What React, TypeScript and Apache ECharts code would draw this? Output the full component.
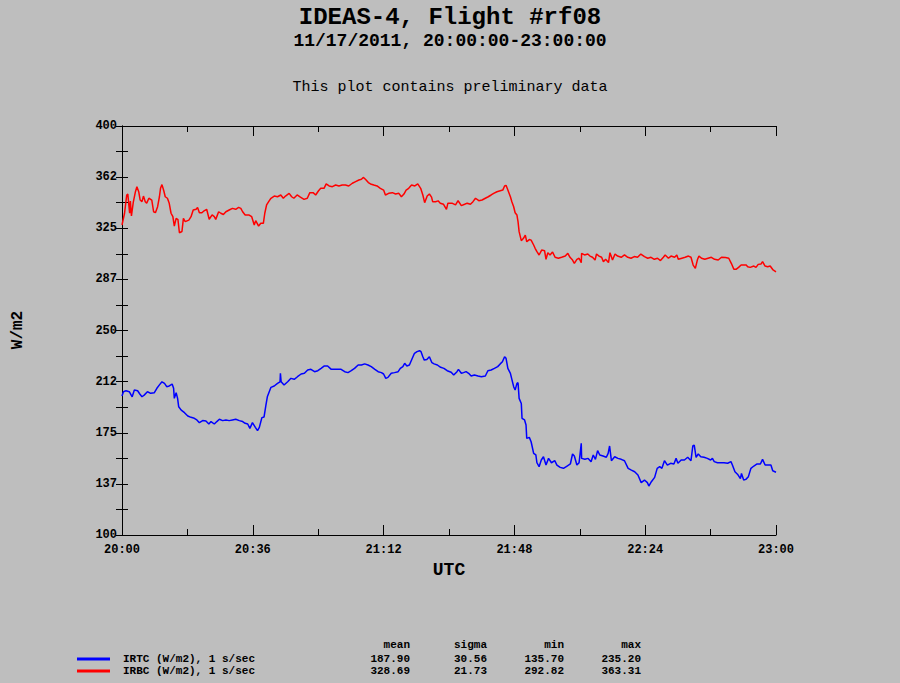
import { useEffect, useRef } from "react";
import * as echarts from "echarts";

const titleText = "IDEAS-4, Flight #rf08";
const subtitleText = "11/17/2011, 20:00:00-23:00:00";
const noteText = "This plot contains preliminary data";
const xAxisName = "UTC";
const yAxisName = "W/m2";
const yTickLabels = ["100", "137", "175", "212", "250", "287", "325", "362", "400"];
const xTickLabels = ["20:00", "20:36", "21:12", "21:48", "22:24", "23:00"];
const seriesNames = ["IRTC (W/m2), 1 s/sec", "IRBC (W/m2), 1 s/sec"];
const seriesColors = ["#0000ff", "#ff0000"];
const statHeaders = ["mean", "sigma", "min", "max"];
const irtcStats = ["187.90", "30.56", "135.70", "235.20"];
const irbcStats = ["328.69", "21.73", "292.82", "363.31"];

// [minutes after 20:00, W/m2]
const irtcData: [number, number][] = [
  [0, 201.9], [0.4, 205.1], [1.1, 205.8], [2.0, 205.1], [2.8, 201.4], [3.4, 206.3], [4.3, 205.8], [4.9, 203.4],
  [5.5, 201.4], [6.1, 202.6], [7.0, 205.1], [7.9, 203.9], [8.9, 204.4], [9.6, 207.6], [10.3, 210.1], [11.0, 212.4],
  [11.7, 211.2], [12.3, 208.8], [13.0, 209.3], [13.8, 210.7], [14.2, 207.6], [14.4, 200.2], [14.9, 204.4], [15.3, 200.2],
  [15.6, 194.1], [16.3, 191.6], [17.2, 189.7], [18.1, 187.3], [19.0, 186.3], [19.9, 185.6], [20.6, 184.4], [21.3, 182.4],
  [22.2, 183.9], [23.1, 183.6], [23.9, 181.4], [24.5, 183.2], [25.4, 181.4], [26.1, 183.2], [26.8, 184.9], [27.7, 183.9],
  [28.6, 184.4], [29.5, 183.9], [30.4, 184.4], [31.3, 184.9], [32.3, 183.9], [33.2, 183.2], [33.9, 181.9], [34.6, 181.4],
  [35.2, 178.2], [35.9, 182.4], [36.7, 178.9], [37.3, 176.5], [37.8, 178.9], [38.5, 186.1], [39.1, 186.6], [39.6, 195.1],
  [40.0, 201.4], [41.0, 208.3], [41.9, 209.3], [42.8, 211.2], [43.5, 212.4], [43.6, 218.6], [43.8, 212.4], [44.6, 210.0],
  [45.6, 212.4], [46.5, 214.9], [47.4, 214.2], [48.3, 216.1], [49.3, 218.1], [50.2, 218.6], [51.1, 221.0], [52.0, 221.5],
  [53.0, 219.8], [53.9, 220.5], [54.8, 222.2], [55.7, 224.0], [56.6, 224.0], [57.6, 221.5], [58.5, 221.5], [59.4, 221.5],
  [60.3, 221.5], [61.3, 219.8], [62.2, 219.1], [63.1, 220.5], [64.0, 222.2], [65.0, 224.7], [65.9, 224.7], [66.8, 225.5],
  [67.7, 224.7], [68.6, 223.5], [69.6, 221.5], [70.5, 219.8], [71.4, 219.1], [72.0, 218.1], [72.6, 214.9], [73.2, 215.6],
  [74.1, 218.6], [75.0, 219.1], [76.0, 219.8], [76.6, 222.2], [77.3, 223.5], [77.8, 225.9], [78.4, 224.0], [79.1, 224.7],
  [79.9, 229.6], [80.5, 233.3], [81.2, 234.5], [81.9, 235.2], [82.3, 234.5], [82.8, 230.8], [83.2, 228.3], [83.9, 228.8],
  [84.6, 230.8], [85.3, 226.4], [85.9, 225.5], [86.8, 224.7], [87.7, 223.0], [88.6, 222.2], [89.5, 220.5], [90.6, 219.4],
  [91.3, 217.3], [92.2, 219.8], [92.6, 221.5], [93.4, 218.6], [94.0, 219.1], [94.7, 219.8], [95.4, 218.6], [96.1, 216.6],
  [97.0, 217.3], [98.0, 216.6], [98.9, 216.1], [100.0, 216.6], [100.7, 220.5], [101.6, 221.0], [102.5, 222.2], [103.4, 223.5],
  [104.1, 225.5], [104.7, 227.1], [105.3, 230.8], [105.7, 229.6], [106.2, 222.2], [106.9, 218.6], [107.3, 214.2], [107.8, 208.8],
  [108.2, 206.3], [108.7, 211.2], [109.0, 211.7], [109.3, 200.2], [109.9, 196.5], [110.1, 185.6], [110.8, 184.4], [111.2, 180.7],
  [111.4, 170.9], [112.1, 171.6], [112.6, 168.4], [113.3, 159.9], [113.9, 158.7], [114.2, 153.0], [114.8, 150.1], [115.4, 155.0],
  [116.0, 157.4], [116.7, 151.3], [117.4, 156.2], [118.2, 153.0], [119.1, 154.5], [119.7, 151.3], [120.6, 149.6], [121.5, 148.9],
  [122.5, 150.6], [123.4, 152.1], [124.0, 159.4], [124.5, 157.9], [125.2, 151.3], [125.8, 153.0], [126.4, 167.3], [126.5, 156.2],
  [127.4, 155.5], [128.3, 156.2], [129.1, 153.8], [129.7, 158.7], [130.3, 155.5], [130.9, 161.9], [131.5, 158.7], [132.4, 157.9],
  [133.3, 157.0], [133.8, 159.9], [134.2, 165.3], [134.7, 154.5], [135.6, 157.4], [136.5, 156.2], [137.4, 155.5], [138.3, 154.5],
  [139.3, 148.9], [140.2, 147.6], [141.1, 146.4], [142.0, 144.0], [142.9, 138.4], [143.8, 140.3], [144.6, 138.4], [145.0, 135.9],
  [145.7, 139.1], [146.6, 142.3], [147.3, 148.9], [148.0, 150.1], [148.6, 148.9], [149.3, 154.5], [150.1, 151.3], [151.0, 152.6],
  [151.9, 152.1], [152.5, 156.2], [153.0, 152.6], [153.9, 155.0], [154.8, 155.0], [155.7, 157.0], [156.6, 154.5], [157.1, 165.3],
  [157.5, 166.0], [158.0, 157.0], [158.6, 159.4], [159.3, 157.4], [160.2, 157.0], [161.1, 156.2], [162.0, 155.0], [162.5, 156.2],
  [163.0, 153.8], [163.9, 153.0], [164.8, 153.0], [165.7, 153.0], [166.7, 152.6], [167.6, 153.8], [168.0, 151.3], [168.7, 146.4],
  [169.4, 144.6], [170.2, 141.4], [170.5, 145.1], [171.1, 140.3], [171.7, 140.8], [172.4, 142.8], [173.1, 148.9], [173.9, 150.6],
  [174.8, 152.1], [175.7, 152.1], [176.3, 155.5], [177.0, 151.3], [177.7, 151.3], [178.6, 151.3], [179.1, 147.1], [180, 146.0],
];

const irbcData: [number, number][] = [
  [0, 327.4], [0.7, 336.0], [1.3, 349.4], [1.6, 350.0], [2.1, 336.0], [2.3, 345.0], [2.6, 334.0], [3.1, 344.0],
  [3.7, 351.8], [4.1, 355.5], [4.6, 351.8], [5.0, 345.7], [5.5, 344.5], [5.9, 348.6], [6.4, 344.5], [6.8, 343.4],
  [7.4, 347.0], [8.2, 345.7], [8.7, 337.1], [9.2, 336.4], [9.8, 340.8], [10.3, 348.1], [10.6, 354.3], [11.0, 357.0],
  [11.5, 352.5], [11.9, 348.1], [12.5, 347.0], [13.0, 343.3], [13.5, 336.0], [14.0, 333.5], [14.4, 326.6], [14.9, 332.3],
  [15.4, 331.3], [15.8, 321.7], [16.5, 322.6], [16.9, 332.3], [17.4, 329.9], [18.4, 331.0], [19.0, 333.5], [19.6, 338.4],
  [20.4, 339.0], [20.8, 340.3], [21.3, 336.4], [22.0, 336.4], [22.6, 337.8], [23.3, 338.9], [24.0, 331.6], [24.8, 334.8],
  [25.4, 333.5], [25.8, 331.5], [26.6, 337.1], [27.2, 336.0], [27.9, 335.1], [28.6, 337.1], [29.5, 338.4], [30.4, 339.6],
  [31.3, 338.9], [32.1, 340.3], [32.7, 339.6], [33.2, 337.1], [33.9, 334.7], [35.0, 334.7], [35.7, 333.5], [36.4, 327.4],
  [36.8, 330.6], [37.6, 326.6], [38.2, 328.6], [38.9, 328.6], [39.3, 336.0], [39.8, 342.1], [40.5, 345.1], [41.0, 347.0],
  [41.9, 348.6], [42.8, 348.1], [43.7, 349.4], [44.4, 347.0], [45.0, 348.6], [46.0, 350.6], [46.7, 348.1], [47.3, 347.0],
  [48.2, 349.4], [49.1, 347.8], [50.1, 346.2], [51.0, 347.0], [51.7, 351.1], [52.6, 351.1], [53.3, 349.4], [54.1, 352.5],
  [54.7, 354.3], [55.6, 354.3], [56.2, 357.5], [57.0, 356.0], [57.9, 355.5], [58.8, 356.7], [59.7, 356.0], [60.6, 356.7],
  [61.5, 356.7], [62.4, 356.0], [63.4, 358.0], [64.3, 359.2], [65.2, 360.4], [65.9, 360.9], [66.4, 362.3], [67.0, 360.9],
  [67.8, 358.5], [68.4, 357.5], [69.3, 356.7], [70.2, 356.0], [71.1, 354.3], [72.0, 353.0], [72.5, 349.4], [73.4, 350.6],
  [74.4, 351.1], [75.3, 350.1], [76.2, 350.6], [76.9, 348.1], [77.6, 350.1], [78.2, 353.0], [78.9, 354.3], [79.7, 356.7],
  [80.6, 356.0], [81.4, 357.5], [82.2, 354.3], [82.8, 349.4], [83.3, 343.8], [84.0, 348.6], [84.6, 350.1], [85.2, 347.8],
  [85.5, 344.5], [86.3, 344.5], [87.0, 345.1], [87.6, 343.4], [88.5, 342.6], [89.3, 338.9], [89.7, 343.4], [90.8, 343.4],
  [91.8, 342.1], [92.5, 345.2], [93.4, 341.6], [94.3, 342.6], [95.0, 343.4], [95.9, 342.6], [96.6, 344.5], [97.3, 347.0],
  [98.2, 345.2], [99.1, 345.7], [100.0, 347.0], [100.8, 348.1], [101.6, 349.4], [102.3, 350.6], [103.2, 351.8], [104.1, 352.5],
  [104.8, 353.0], [105.3, 356.0], [105.7, 356.5], [106.2, 353.0], [106.9, 348.1], [107.3, 344.5], [107.8, 340.8], [108.2, 336.4],
  [108.7, 334.7], [109.0, 329.8], [109.3, 322.5], [109.9, 315.9], [110.5, 317.6], [111.0, 320.0], [111.4, 315.1], [112.1, 316.7],
  [112.6, 316.3], [113.3, 312.7], [113.7, 310.3], [114.2, 307.8], [114.8, 305.4], [115.5, 309.0], [116.3, 308.5], [116.7, 302.2],
  [117.2, 307.1], [117.8, 305.4], [118.5, 307.6], [119.2, 303.7], [120.1, 303.0], [121.0, 303.7], [122.0, 304.6], [122.7, 306.6],
  [123.3, 303.7], [124.0, 301.7], [124.5, 299.3], [125.2, 302.2], [125.8, 303.0], [126.4, 299.8], [126.5, 306.6], [127.3, 305.4],
  [128.2, 306.1], [128.8, 304.6], [129.5, 303.7], [130.2, 301.7], [130.6, 306.1], [131.3, 304.6], [132.0, 303.7], [132.5, 300.5],
  [133.1, 302.2], [133.9, 299.8], [134.3, 307.1], [135.0, 301.7], [135.7, 306.1], [136.4, 304.6], [137.4, 303.7], [138.3, 305.4],
  [139.2, 303.7], [140.1, 303.0], [141.0, 304.2], [141.9, 303.7], [142.8, 306.1], [143.8, 304.2], [144.7, 303.0], [145.6, 303.7],
  [146.5, 302.2], [147.4, 303.0], [148.2, 301.3], [149.0, 303.7], [149.5, 305.4], [150.4, 303.0], [151.1, 304.6], [152.1, 303.7],
  [152.7, 305.4], [153.1, 302.2], [154.1, 303.0], [155.0, 303.7], [155.9, 304.6], [156.6, 303.7], [157.2, 298.0], [157.8, 295.6],
  [158.4, 302.2], [158.8, 304.6], [159.5, 303.0], [160.4, 302.2], [161.3, 303.0], [162.2, 303.7], [163.1, 302.2], [164.1, 301.7],
  [165.0, 303.7], [166.1, 303.5], [167.0, 303.0], [167.7, 299.3], [168.4, 294.9], [169.0, 294.9], [169.7, 296.3], [170.4, 298.0],
  [171.1, 298.0], [171.8, 298.0], [172.2, 296.8], [172.9, 296.3], [173.9, 297.3], [174.5, 296.3], [175.1, 298.5], [175.9, 298.8],
  [176.3, 300.5], [177.0, 297.3], [177.7, 296.8], [178.4, 297.3], [179.2, 294.4], [180, 293.0],
];

const FONT = '"Liberation Mono", "DejaVu Sans Mono", monospace';

export default function App() {
  const ref = useRef<HTMLDivElement>(null);

  useEffect(() => {
    if (!ref.current) return;
    const chart = echarts.init(ref.current, null, { renderer: "svg" });

    const axisLine = { show: true, lineStyle: { color: "#000", width: 1 } };
    const xCommon = {
      type: "value" as const,
      min: 0,
      max: 180,
      interval: 36,
      axisLine,
      splitLine: { show: false },
      axisTick: { show: true, inside: true, length: 10, lineStyle: { color: "#000", width: 1 } },
      minorTick: { show: true, splitNumber: 2, length: 6, lineStyle: { color: "#000", width: 1 } },
    };
    const yCommon = {
      type: "value" as const,
      min: 100,
      max: 400,
      interval: 37.5,
      axisLine,
      splitLine: { show: false },
      axisTick: { show: true, inside: true, length: 6, lineStyle: { color: "#000", width: 1 } },
      minorTick: { show: true, splitNumber: 2, length: 6, lineStyle: { color: "#000", width: 1 } },
    };

    const statCols = [410, 487, 564, 641];
    const small = `bold 11px ${FONT}`;
    const graphics: any[] = [
      { type: "text", x: 450, y: 17, style: { text: titleText, textAlign: "center", textVerticalAlign: "middle", font: `bold 24px ${FONT}`, lineHeight: 24, fill: "#000" } },
      { type: "text", x: 450, y: 41, style: { text: subtitleText, textAlign: "center", textVerticalAlign: "middle", font: `bold 18px ${FONT}`, lineHeight: 18, fill: "#000" } },
      { type: "text", x: 450, y: 87, style: { text: noteText, textAlign: "center", textVerticalAlign: "middle", font: `15px ${FONT}`, fill: "#000" } },
      { type: "text", x: 449, y: 570, style: { text: xAxisName, textAlign: "center", textVerticalAlign: "middle", font: `bold 18px ${FONT}`, fill: "#000" } },
      { type: "text", x: 18, y: 330, rotation: Math.PI / 2, style: { text: yAxisName, textAlign: "center", textVerticalAlign: "middle", font: `bold 16px ${FONT}`, fill: "#000" } },
    ];
    statHeaders.forEach((h, i) => {
      graphics.push({ type: "text", x: statCols[i], y: 645, style: { text: h, textAlign: "right", textVerticalAlign: "middle", font: small, lineHeight: 11, fill: "#000" } });
    });
    [irtcStats, irbcStats].forEach((stats, r) => {
      const y = 659 + r * 12;
      graphics.push({ type: "line", shape: { x1: 77, y1: y, x2: 110, y2: y }, style: { stroke: seriesColors[r], lineWidth: 3 } });
      graphics.push({ type: "text", x: 123, y, style: { text: seriesNames[r], textAlign: "left", textVerticalAlign: "middle", font: small, lineHeight: 11, fill: "#000" } });
      stats.forEach((s, i) => {
        graphics.push({ type: "text", x: statCols[i], y, style: { text: s, textAlign: "right", textVerticalAlign: "middle", font: small, lineHeight: 11, fill: "#000" } });
      });
    });

    chart.setOption({
      animation: false,
      backgroundColor: "#bebebe",
      grid: { left: 122, right: 124, top: 126, bottom: 148, containLabel: false },
      xAxis: [
        {
          ...xCommon,
          position: "bottom",
          axisLabel: {
            show: true,
            margin: 9,
            color: "#000",
            fontFamily: FONT,
            fontWeight: "bold",
            fontSize: 12,
            formatter: (v: number) => xTickLabels[Math.round(v / 36)] ?? "",
          },
        },
        { ...xCommon, position: "top", axisLabel: { show: false } },
      ],
      yAxis: [
        {
          ...yCommon,
          position: "left",
          axisLabel: {
            show: true,
            margin: 5,
            color: "#000",
            fontFamily: FONT,
            fontWeight: "bold",
            fontSize: 12,
            formatter: (v: number) => yTickLabels[Math.round((v - 100) / 37.5)] ?? "",
          },
        },
        { ...yCommon, position: "right", axisLabel: { show: false } },
      ],
      series: [
        {
          name: seriesNames[0],
          type: "line",
          data: irtcData,
          showSymbol: false,
          symbol: "none",
          lineStyle: { color: seriesColors[0], width: 1.5 },
          itemStyle: { color: seriesColors[0] },
          xAxisIndex: 0,
          yAxisIndex: 0,
        },
        {
          name: seriesNames[1],
          type: "line",
          data: irbcData,
          showSymbol: false,
          symbol: "none",
          lineStyle: { color: seriesColors[1], width: 1.5 },
          itemStyle: { color: seriesColors[1] },
          xAxisIndex: 0,
          yAxisIndex: 0,
        },
      ],
      graphic: graphics,
    });

    return () => chart.dispose();
  }, []);

  return (
    <div
      ref={ref}
      style={{ position: "fixed", left: 0, top: 0, width: 900, height: 683, background: "#bebebe" }}
    />
  );
}
